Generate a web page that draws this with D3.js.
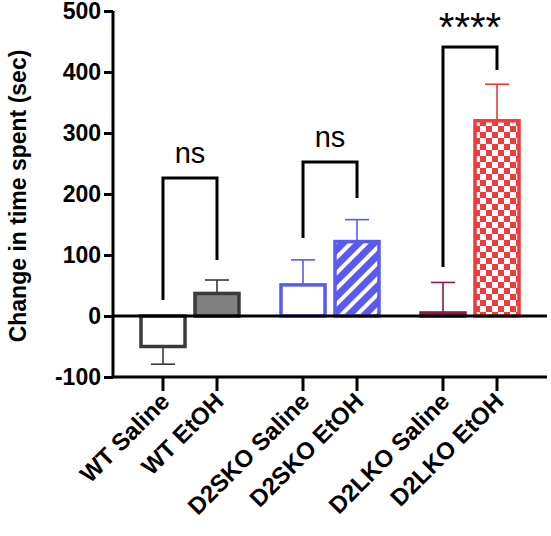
<!DOCTYPE html><html><head><meta charset="utf-8"><script src="https://cdn.jsdelivr.net/npm/d3@7"></script>
<style>body{margin:0;background:#fff}</style></head><body><svg id="c" width="551" height="536"></svg>
<script>
const categories=["WT Saline","WT EtOH","D2SKO Saline","D2SKO EtOH","D2LKO Saline","D2LKO EtOH"];
const means=[-50,37,51,122,5,320];
const errTop=[-79,59,92,158,55,380];
const yTicks=[-100,0,100,200,300,400,500];
const comparisons=[{a:0,b:1,label:"ns"},{a:2,b:3,label:"ns"},{a:4,b:5,label:"****"}];
const brackets=[[300,178,260],[238,162,198],[267,47,70]];
const strokeCol=["#3a3a3a","#3a3a3a","#5a5af0","#5a5af0","#8b1a4a","#ee3b3b"];
const errCol=["#3a3a3a","#3a3a3a","#5a5af0","#5a5af0","#8b1a4a","#ee3b3b"];
const svg=d3.select("#c");
const y=d3.scaleLinear().domain([-100,500]).range([377,11]);
const xs=[163,217,303,357,443,497];
const x=d3.scaleOrdinal().domain(categories).range(xs);
const defs=svg.append("defs");
const h=defs.append("pattern").attr("id","hatch").attr("patternUnits","userSpaceOnUse").attr("width",11).attr("height",11).attr("patternTransform","rotate(45)");
h.append("rect").attr("width",11).attr("height",11).attr("fill","#5a5af0");
h.append("rect").attr("width",4).attr("height",11).attr("fill","#fff");
const ck=defs.append("pattern").attr("id","check").attr("patternUnits","userSpaceOnUse").attr("width",12).attr("height",12);
ck.append("rect").attr("width",12).attr("height",12).attr("fill","#fff");
ck.append("rect").attr("width",6).attr("height",6).attr("fill","#ee3b3b");
ck.append("rect").attr("x",6).attr("y",6).attr("width",6).attr("height",6).attr("fill","#ee3b3b");
const fills=["#fff","#808080","#fff","url(#hatch)","#fff","url(#check)"];
const bw=44;
const F="Arial, 'Liberation Sans', sans-serif";
categories.forEach((c,i)=>{
 const g=svg.append("g").attr("stroke",errCol[i]).attr("stroke-width",1.6);
 g.append("line").attr("x1",x(c)).attr("x2",x(c)).attr("y1",y(means[i])).attr("y2",y(errTop[i]));
 g.append("line").attr("x1",x(c)-12).attr("x2",x(c)+12).attr("y1",y(errTop[i])).attr("y2",y(errTop[i]));
});
categories.forEach((c,i)=>{
 const y0=Math.min(y(0),y(means[i])),hh=Math.max(Math.abs(y(0)-y(means[i])),1.5);
 svg.append("rect").attr("x",x(c)-bw/2).attr("y",y0).attr("width",bw).attr("height",hh)
  .attr("fill",fills[i]).attr("stroke",strokeCol[i]).attr("stroke-width",3.5);
});
const ya=svg.append("g").attr("transform","translate(113,0)").call(d3.axisLeft(y).tickValues(yTicks).tickSize(9).tickPadding(3).tickFormat(d=>String(d)));
ya.selectAll("text").attr("font-family",F).attr("font-weight","bold").attr("font-size",23).attr("fill","#000");
ya.select(".domain").attr("stroke-width",3).attr("d","M0,"+y(-100)+"V"+y(500));
ya.selectAll(".tick line").attr("stroke-width",3);
svg.append("line").attr("x1",112).attr("x2",547).attr("y1",y(0)).attr("y2",y(0)).attr("stroke","#000").attr("stroke-width",3);
svg.append("line").attr("x1",112).attr("x2",547).attr("y1",y(-100)).attr("y2",y(-100)).attr("stroke","#000").attr("stroke-width",3);
categories.forEach((c,i)=>{
 svg.append("line").attr("x1",x(c)).attr("x2",x(c)).attr("y1",y(-100)).attr("y2",y(-100)+14).attr("stroke","#000").attr("stroke-width",3);
 svg.append("text").attr("transform",`translate(${x(c)+8},${y(-100)+26}) rotate(-45)`).attr("text-anchor","end")
  .attr("font-family",F).attr("font-weight","bold").attr("font-size",24).text(c);
});
svg.append("text").attr("transform","translate(26,196) rotate(-90)").attr("text-anchor","middle")
 .attr("font-family",F).attr("font-weight","bold").attr("font-size",23).text("Change in time spent (sec)");
comparisons.forEach((cm,k)=>{
 const [l,t,r]=brackets[k],xa=xs[cm.a],xb=xs[cm.b];
 svg.append("path").attr("d",`M${xa},${l}V${t}H${xb}V${r}`).attr("fill","none").attr("stroke","#000").attr("stroke-width",3);
 svg.append("text").attr("x",(xa+xb)/2).attr("y",cm.label==="ns"?t-15:t-6).attr("text-anchor","middle")
  .attr("font-family",F).attr("font-size",cm.label==="ns"?29:40).text(cm.label);
});
</script></body></html>
